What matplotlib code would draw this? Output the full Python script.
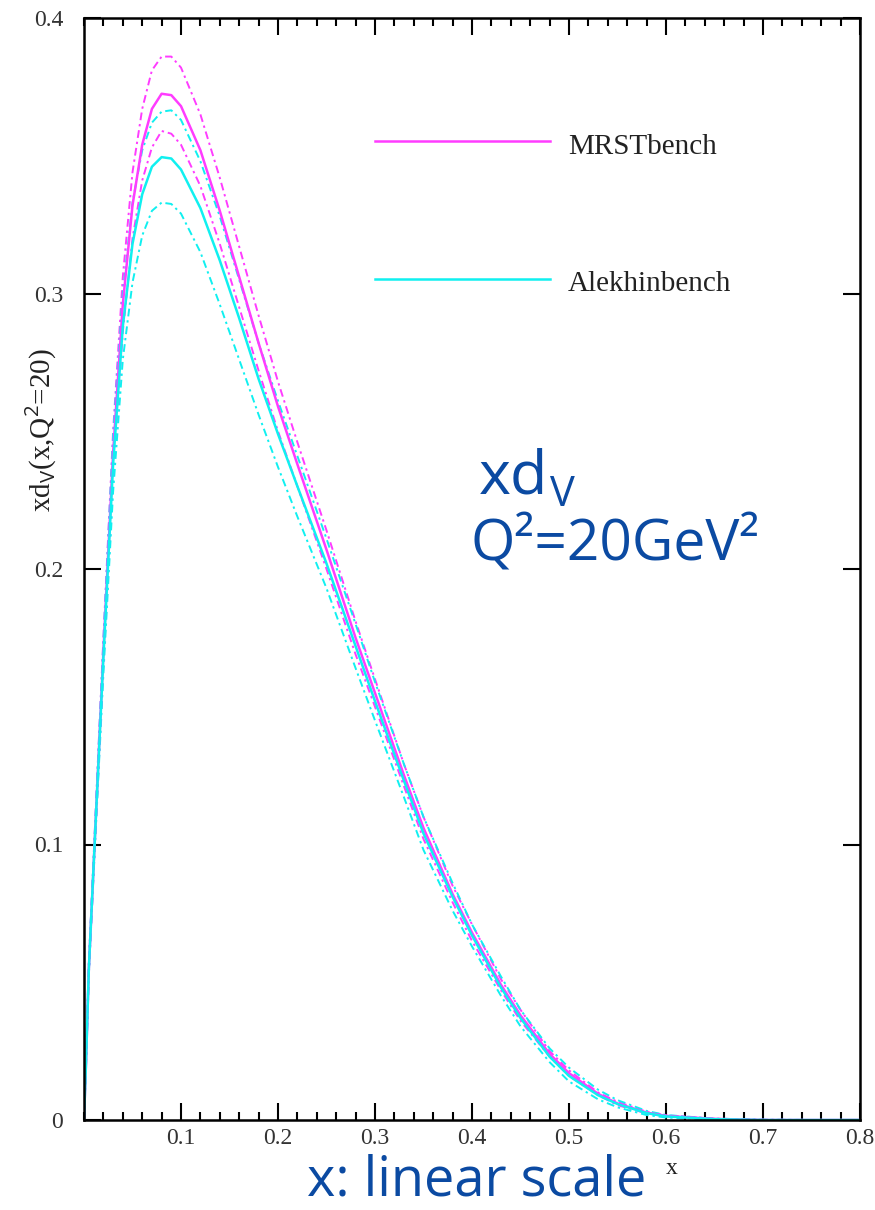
import numpy as np
import matplotlib.pyplot as plt
from matplotlib.ticker import MultipleLocator

# x grid shared by all curves
x = [0.0, 0.002, 0.005, 0.01, 0.02, 0.03, 0.04, 0.05, 0.06, 0.07, 0.08, 0.09,
     0.10, 0.12, 0.14, 0.16, 0.18, 0.20, 0.22, 0.25, 0.28, 0.30, 0.33, 0.35,
     0.38, 0.40, 0.43, 0.45, 0.48, 0.50, 0.53, 0.55, 0.58, 0.60, 0.65, 0.70,
     0.75, 0.80]

mrst = [0.0, 0.020, 0.055, 0.093, 0.170, 0.242, 0.296, 0.332, 0.354, 0.367, 0.3725, 0.372,
        0.368, 0.352, 0.330, 0.306, 0.282, 0.259, 0.238, 0.207, 0.175, 0.155, 0.125, 0.106,
        0.082, 0.068, 0.049, 0.038, 0.024, 0.017, 0.0095, 0.006, 0.0027, 0.0015, 0.0004, 0.0,
        0.0, 0.0]
mrst_up = [0.0, 0.021, 0.057, 0.096, 0.175, 0.250, 0.306, 0.344, 0.367, 0.381, 0.386, 0.386,
           0.382, 0.365, 0.342, 0.317, 0.292, 0.268, 0.246, 0.214, 0.181, 0.160, 0.129, 0.110,
           0.085, 0.071, 0.051, 0.040, 0.025, 0.018, 0.010, 0.0066, 0.003, 0.0017, 0.0005, 0.0001,
           0.0, 0.0]
mrst_lo = [0.0, 0.019, 0.053, 0.090, 0.165, 0.234, 0.286, 0.320, 0.341, 0.353, 0.359, 0.358,
           0.354, 0.339, 0.318, 0.295, 0.272, 0.250, 0.230, 0.200, 0.169, 0.150, 0.121, 0.102,
           0.079, 0.065, 0.047, 0.036, 0.023, 0.016, 0.009, 0.0054, 0.0024, 0.0013, 0.0003, 0.0,
           0.0, 0.0]

alek = [0.0, 0.020, 0.055, 0.093, 0.168, 0.238, 0.288, 0.318, 0.336, 0.346, 0.3495, 0.349,
        0.345, 0.331, 0.312, 0.291, 0.269, 0.249, 0.230, 0.202, 0.172, 0.152, 0.123, 0.104,
        0.081, 0.067, 0.048, 0.037, 0.023, 0.016, 0.009, 0.0058, 0.0025, 0.0013, 0.0003, 0.0,
        0.0, 0.0]
alek_up = [0.0, 0.021, 0.057, 0.096, 0.174, 0.248, 0.300, 0.333, 0.352, 0.362, 0.366, 0.3665,
           0.363, 0.348, 0.328, 0.305, 0.282, 0.261, 0.241, 0.211, 0.180, 0.159, 0.129, 0.110,
           0.086, 0.071, 0.052, 0.040, 0.026, 0.019, 0.011, 0.0072, 0.0033, 0.0018, 0.0005, 0.0001,
           0.0, 0.0]
alek_lo = [0.0, 0.019, 0.053, 0.090, 0.162, 0.228, 0.276, 0.304, 0.321, 0.330, 0.333, 0.3325,
           0.329, 0.315, 0.296, 0.276, 0.256, 0.237, 0.219, 0.193, 0.164, 0.145, 0.117, 0.098,
           0.076, 0.063, 0.045, 0.034, 0.021, 0.014, 0.0075, 0.0046, 0.0018, 0.0009, 0.0001, 0.0,
           0.0, 0.0]

# legend entries: sample line x-range and height (data units)
leg_x = [0.30, 0.48]
leg_y_mrst = 0.3554
leg_y_alek = 0.3053

magenta = '#ff3cff'
cyan = '#10f0f0'
blue = '#0b4aa2'
serif = 'Liberation Serif'
dashdot = (0, (4, 2, 1.2, 2))

plt.rcParams['mathtext.fontset'] = 'custom'
plt.rcParams['mathtext.rm'] = 'Open Sans'

fig = plt.figure(figsize=(8.75, 12.1), dpi=100)
ax = fig.add_axes([84 / 875, 1 - 1120 / 1210, 776 / 875, 1102 / 1210])

ax.plot(x, mrst_up, color=magenta, lw=1.4, ls=dashdot)
ax.plot(x, mrst_lo, color=magenta, lw=1.4, ls=dashdot)
ax.plot(x, alek_up, color=cyan, lw=1.4, ls=dashdot)
ax.plot(x, alek_lo, color=cyan, lw=1.4, ls=dashdot)
ax.plot(x, mrst, color=magenta, lw=1.8)
ax.plot(x, alek, color=cyan, lw=1.8)

ax.set_xlim(0, 0.8)
ax.set_ylim(0, 0.4)
ax.xaxis.set_minor_locator(MultipleLocator(0.02))
ax.set_xticks([0.1, 0.2, 0.3, 0.4, 0.5, 0.6, 0.7, 0.8])
ax.set_xticklabels(['0.1', '0.2', '0.3', '0.4', '0.5', '0.6', '0.7', '0.8'])
ax.set_yticks([0, 0.1, 0.2, 0.3, 0.4])
ax.set_yticklabels(['0', '0.1', '0.2', '0.3', '0.4'])

ax.tick_params(axis='x', which='major', direction='in', length=12, width=1.5,
               top=True, pad=6, labelsize=17)
ax.tick_params(axis='x', which='minor', direction='in', length=6, width=1.5, top=True)
ax.tick_params(axis='y', which='major', direction='in', length=12, width=1.5,
               right=True, pad=15, labelsize=17)
for lab in ax.get_xticklabels() + ax.get_yticklabels():
    lab.set_fontfamily(serif)
    lab.set_color('#333333')
for sp in ax.spines.values():
    sp.set_linewidth(1.8)

# legend drawn as in the original: line + label
ax.plot(leg_x, [leg_y_mrst, leg_y_mrst], color=magenta, lw=1.8)
ax.plot(leg_x, [leg_y_alek, leg_y_alek], color=cyan, lw=1.8)
fig.text(568 / 875, 1 - 147 / 1210, 'MRSTbench', family=serif, fontsize=21,
         va='center', ha='left', color='#222222')
fig.text(568 / 875, 1 - 284 / 1210, 'Alekhinbench', family=serif, fontsize=21,
         va='center', ha='left', color='#222222')

# axis titles
fig.text(41 / 875, 1 - 430 / 1210, r'xd$_{\mathrm{V}}$(x,Q$^{2}$=20)', family=serif,
         fontsize=21, rotation=90, ha='center', va='center', color='#222222')
fig.text(672 / 875, 1 - 1168 / 1210, 'x', family=serif, fontsize=17,
         ha='center', va='center', color='#222222')

# blue annotations (mathtext keeps the xd_V boxes tight to the glyphs)
fig.text(478 / 875, 1 - 493 / 1210, r'$\mathrm{xd}$', family='Open Sans',
         fontsize=44, color=blue, ha='left', va='baseline')
fig.text(549 / 875, 1 - 506 / 1210, r'$\mathrm{V}$', family='Open Sans',
         fontsize=30, color=blue, ha='left', va='baseline')
fig.text(470 / 875, 1 - 561 / 1210, 'Q\u00b2=20GeV\u00b2', family='Open Sans',
         fontsize=41, color=blue, ha='left', va='baseline')
fig.text(307 / 875, 1 - 1196 / 1210, 'x: linear scale', family='Open Sans',
         fontsize=39, color=blue, ha='left', va='baseline')

fig.savefig('out.png', dpi=100)
